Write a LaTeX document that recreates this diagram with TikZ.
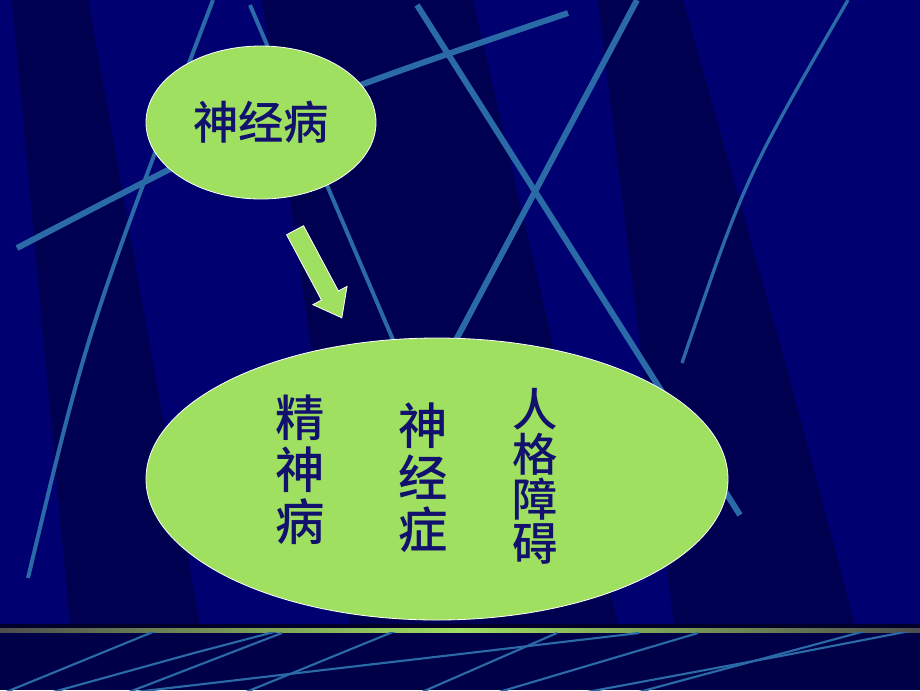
\documentclass[tikz,border=0pt]{standalone}
\usepackage{fontspec}
\newfontfamily\cjk{Noto Sans CJK SC Medium}
\usetikzlibrary{shapes.geometric,shapes.arrows}
\definecolor{navy}{RGB}{0,0,112}
\definecolor{deepnavy}{RGB}{0,0,80}
\definecolor{stripnavy}{RGB}{0,0,72}
\definecolor{streak}{RGB}{42,106,166}
\definecolor{leaf}{RGB}{160,224,96}
\definecolor{ink}{RGB}{18,18,110}

\begin{document}
\begin{tikzpicture}[x=0.75pt,y=-0.75pt,
  bubble/.style={ellipse,draw=white,line width=0.6pt,fill=leaf,inner sep=0pt},
  streakline/.style={draw=streak,line width=3.5pt},
  thinstreak/.style={draw=streak,line width=1.6pt},
  vtext/.style={text=ink,align=center,inner sep=0pt}]
\useasboundingbox (0,0) rectangle (920,690);
% background and dark bands
\fill[navy] (0,0) rectangle (920,690);
\fill[deepnavy] (12,0) -- (88,0) -- (200,625) -- (70,625) -- cycle;
\fill[deepnavy] (262,0) -- (473,0) -- (618,625) -- (350,625) -- cycle;
\fill[deepnavy] (598,0) -- (683,0) -- (790,380) -- (855,625) -- (674,625) -- cycle;
% light streaks
\begin{scope}
\clip (0,0) rectangle (920,625);
\draw[streakline,line width=3pt] (213,0) .. controls (87,331) .. (28,578);
\draw[streakline,line width=3pt] (250,5) -- (470,520);
\draw[streakline,line width=4.5pt] (417,5) -- (740,515);
\draw[streakline,line width=4.5pt] (637,0) -- (440,370);
\draw[streakline,line width=2.5pt] (848,0) .. controls (745,178) .. (682,363);
\draw[streakline,line width=4.5pt] (17,248) .. controls (282,110) .. (568,13);
\end{scope}
% bottom strip
\fill[stripnavy] (0,625) rectangle (920,690);
\fill[black!40!stripnavy] (0,624) rectangle (920,628);
\shade[left color=gray!60!black,right color=gray!60!black,middle color=leaf] (0,628.5) rectangle (920,632);
\begin{scope}
\clip (0,632) rectangle (920,690);
\draw[thinstreak] (6,692) -- (170,625);
\draw[thinstreak] (53,692) -- (194,653) -- (293,627);
\draw[thinstreak] (129,692) -- (282,633);
\draw[thinstreak] (246,692) -- (405,627);
\draw[thinstreak] (135,692) -- (452,655) -- (639,633);
\draw[thinstreak] (422,692) -- (557,633);
\draw[thinstreak] (499,692) -- (698,633);
\draw[thinstreak] (587,692) -- (786,655) -- (915,630);
\draw[thinstreak] (639,692) -- (880,627);
\end{scope}
% the diagram
\node[bubble,minimum width=172.5pt,minimum height=114.75pt,text=ink,
  font=\cjk\fontsize{34}{36}\selectfont] (neurosis) at (261,122.5) {神经病};
\node[bubble,minimum width=436.5pt,minimum height=211.5pt] (kinds) at (437,479) {};
\node[single arrow,draw=white,line width=0.6pt,fill=leaf,minimum height=74.5pt,
  inner xsep=0pt,inner ysep=6.9pt,single arrow head extend=7.35pt,
  single arrow tip angle=75,rotate=-61.9] (pointer) at (315.5,268.5) {};
\node[vtext,font=\cjk\fontsize{37}{39}\selectfont] (psychosis) at (300,470) {精\\神\\病};
\node[vtext,font=\cjk\fontsize{37}{39}\selectfont] (neurotic) at (423,478) {神\\经\\症};
\node[vtext,font=\cjk\fontsize{34}{33.5}\selectfont] (personality) at (535,476.5) {人\\格\\障\\碍};
\end{tikzpicture}
\end{document}
